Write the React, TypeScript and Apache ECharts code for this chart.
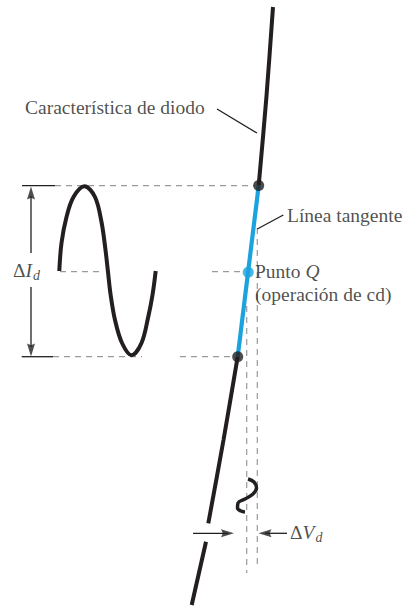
import React, { useEffect, useRef } from "react";
import * as echarts from "echarts";

// Diode characteristic pieces (pixel-like data space: x right, y down)
const diodeUpper = [[273, 7], [266.5, 96], [258.7, 185.5]];
const diodeLower = [[237.7, 356.7], [223.5, 440], [208.3, 523.3]];
const diodeTail = [[206, 541.7], [191.7, 605]];
const tangentLine = [[258.7, 185.5], [237.7, 356.7]];
const operatingEnds = [[258.7, 185.5], [237.7, 356.7]];
const qPoint = [[248.2, 272.3]];

// Current waveform
const currentWave = [
  [59.3, 271], [61.5, 243], [66.5, 217], [73.5, 197], [84.5, 186.3], [95, 197],
  [101.5, 222], [105.5, 250], [108, 272], [110.5, 294], [115, 320], [122, 343],
  [131.7, 355.3], [141.5, 343], [148, 318], [152.5, 295], [155.7, 271],
];
// Voltage waveform (small)
const voltageWave = [
  [248, 479], [254, 482], [256.5, 488], [253, 494], [245, 499], [238, 503],
  [237.5, 508], [241, 511], [245, 512],
];

const dashedGuides = [
  [[55, 185.7], [255, 185.7]],
  [[53, 356.7], [142, 356.7]],
  [[180, 356.7], [234, 356.7]],
  [[60, 271.7], [100, 271.7]],
  [[212, 271.7], [244, 271.7]],
  [[246.7, 306], [246.7, 573]],
  [[257.3, 228], [257.3, 567]],
];
const solidGuides = [
  [[22, 185.7], [55, 185.7]],
  [[21.7, 356.7], [53, 356.7]],
  [[31, 196], [31, 253]],
  [[31, 287], [31, 347]],
  [[193, 533.3], [228, 533.3]],
  [[265, 533.3], [287, 533.3]],
  [[217, 109], [257, 133]],
  [[257.3, 229], [283.3, 215]],
];
const arrowHeads = [
  { pos: [31, 193], rot: 0 },
  { pos: [31, 350], rot: 180 },
  { pos: [227.5, 533.3], rot: -90 },
  { pos: [265, 533.3], rot: 90 },
];
const labelTexts = [
  { pos: [25, 107], text: "Característica de diodo" },
  { pos: [287, 215], text: "Línea tangente" },
  { pos: [255, 271], text: "Punto {i|Q}" },
  { pos: [255, 294], text: "(operación de cd)" },
  { pos: [13, 270], text: "Δ{i|I}{s|d}" },
  { pos: [290, 532], text: "Δ{i|V}{s|d}" },
];

const INK = "#231f20";
const BLUE = "#1ba3e0";
const GRAY = "#9a9a9a";
const FONT = "'Liberation Serif', 'Times New Roman', serif";
const FS = 19.5;

export default function App() {
  const ref = useRef<HTMLDivElement>(null);
  useEffect(() => {
    if (!ref.current) return;
    const chart = echarts.init(ref.current, undefined, { renderer: "svg" });
    chart.setOption({
      animation: false,
      backgroundColor: "#ffffff",
      grid: { left: 0, right: 0, top: 0, bottom: 0 },
      xAxis: { type: "value", min: 0, max: 404, show: false },
      yAxis: { type: "value", min: 0, max: 608, inverse: true, show: false },
      series: [
        {
          type: "lines", coordinateSystem: "cartesian2d", polyline: true, z: 1,
          lineStyle: { color: GRAY, width: 1.2, type: [6, 5], opacity: 1 },
          data: dashedGuides.map((c) => ({ coords: c })),
        },
        {
          type: "lines", coordinateSystem: "cartesian2d", polyline: true, z: 2,
          lineStyle: { color: INK, width: 1.3, opacity: 1 },
          data: solidGuides.map((c) => ({ coords: c })),
        },
        {
          type: "line", data: diodeUpper, smooth: 0.3, showSymbol: false, z: 3,
          lineStyle: { color: INK, width: 4 },
        },
        {
          type: "line", data: diodeLower, smooth: 0.3, showSymbol: false, z: 3,
          lineStyle: { color: INK, width: 4 },
        },
        {
          type: "line", data: diodeTail, showSymbol: false, z: 3,
          lineStyle: { color: INK, width: 4 },
        },
        {
          type: "line", data: tangentLine, showSymbol: false, z: 4,
          lineStyle: { color: BLUE, width: 4.2 },
        },
        {
          type: "line", data: currentWave, smooth: 0.35, showSymbol: false, z: 3,
          lineStyle: { color: INK, width: 4 },
        },
        {
          type: "line", data: voltageWave, smooth: 0.4, showSymbol: false, z: 3,
          lineStyle: { color: INK, width: 3.5 },
        },
        {
          type: "scatter", data: operatingEnds, symbolSize: 11, z: 5,
          itemStyle: { color: INK },
        },
        {
          type: "scatter", data: qPoint, symbolSize: 11, z: 5,
          itemStyle: { color: BLUE },
        },
        {
          type: "scatter", z: 5,
          symbol: "path://M5,0 L10,14 L5,12 L0,14 Z",
          symbolSize: [8, 13],
          itemStyle: { color: INK },
          data: arrowHeads.map((a) => ({ value: a.pos, symbolRotate: a.rot })),
        },
        {
          type: "scatter", z: 6, symbolSize: 0,
          data: labelTexts.map((l) => ({ value: l.pos, name: l.text })),
          label: {
            show: true,
            position: "right",
            distance: 0,
            formatter: (p: any) => p.name,
            color: INK,
            fontFamily: FONT,
            fontSize: FS,
            rich: {
              i: { fontFamily: FONT, fontSize: FS, fontStyle: "italic", color: INK },
              s: {
                fontFamily: FONT, fontSize: 14, fontStyle: "italic", color: INK,
                padding: [10, 0, 0, 1],
              },
            },
          },
        },
      ],
    });
    return () => chart.dispose();
  }, []);
  return (
    <div
      ref={ref}
      style={{ position: "fixed", left: 0, top: 0, width: 404, height: 608, background: "#fff" }}
    />
  );
}
